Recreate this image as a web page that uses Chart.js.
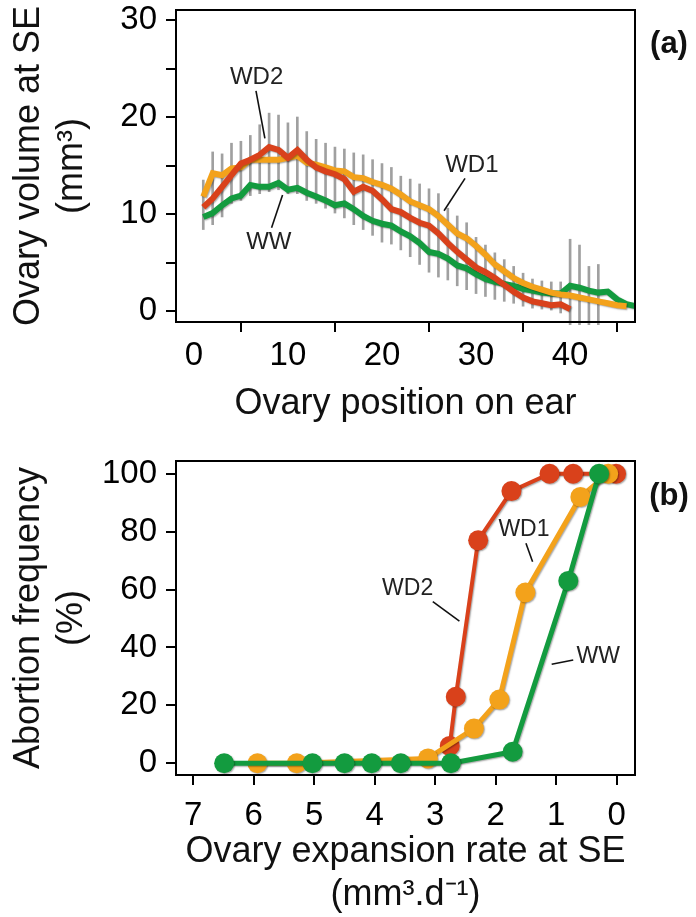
<!DOCTYPE html>
<html>
<head>
<meta charset="utf-8">
<script src="https://cdn.jsdelivr.net/npm/chart.js@4.4.1/dist/chart.umd.min.js"></script>
<style>
  body { margin: 0; background: #fff; }
  canvas { display: block; }
</style>
</head>
<body>
<canvas id="volChart" width="696" height="440"></canvas>
<canvas id="abortChart" width="696" height="477"></canvas>
<script>
// (a) ovary volume along the ear
const wwPos = [1,2,3,4,5,6,7,8,9,10,11,12,13,14,15,16,17,18,19,20,21,22,23,24,25,26,27,28,29,30,31,32,33,34,35,36,37,38,39,40,41,42,43,44,45,46,47];
const wwVolume = [9.7,10.1,10.9,11.6,11.9,13.0,12.8,12.8,13.2,12.5,12.7,12.2,11.8,11.4,10.9,11.1,10.5,9.8,9.3,9.0,8.8,8.2,7.7,7.0,6.1,5.9,5.4,4.7,4.4,3.8,3.3,3.0,2.8,2.6,2.3,2.1,1.9,1.8,1.8,2.6,2.4,2.1,1.9,2.0,1.2,0.7,0.5];
const wd1Pos = [1,2,3,4,5,6,7,8,9,10,11,12,13,14,15,16,17,18,19,20,21,22,23,24,25,26,27,28,29,30,31,32,33,34,35,36,37,38,39,40,41,42,43,44,45,46];
const wd1Volume = [11.8,14.2,14.0,14.7,14.8,15.6,15.6,15.6,15.6,15.8,16.0,15.3,15.1,14.8,14.5,14.4,13.8,13.7,13.3,13.0,12.6,12.0,11.3,10.9,10.5,9.8,8.9,8.0,7.5,6.7,5.8,4.8,4.1,3.4,2.9,2.5,2.2,1.9,1.7,1.6,1.4,1.2,1.0,0.8,0.6,0.5];
const wd2Pos = [1,2,3,4,5,6,7,8,9,10,11,12,13,14,15,16,17,18,19,20,21,22,23,24,25,26,27,28,29,30,31,32,33,34,35,36,37,38,39,40];
const wd2Volume = [10.7,11.6,12.8,14.0,15.2,15.6,16.1,16.9,16.6,15.8,16.6,15.6,14.8,14.4,14.1,13.6,12.3,12.8,12.4,11.5,10.5,10.2,9.6,9.1,8.8,8.0,7.0,6.1,5.3,4.5,4.0,3.4,2.7,2.0,1.4,1.0,0.8,0.6,0.7,0.2];
const sePos = [1,2,3,4,5,6,7,8,9,10,11,12,13,14,15,16,17,18,19,20,21,22,23,24,25,26,27,28,29,30,31,32,33,34,35,36,37,38,39,40,41,42,43];
const seLow = [8.4,8.9,9.7,11.1,11.4,11.9,12.1,12.3,12.5,12.1,12.1,11.4,11.1,10.6,10.1,9.6,8.9,8.4,7.8,7.1,6.9,6.3,5.6,4.8,4.0,3.5,3.2,2.6,2.2,1.8,1.5,1.2,1.0,0.8,0.5,0.3,0.2,0.1,-0.2,-1.5,-1.5,-1.5,-1.5];
const seHigh = [13.5,16.4,16.2,17.3,17.5,18.1,19.2,20.4,20.2,19.4,20.0,18.5,17.7,17.3,16.9,16.7,16.3,16.1,15.6,15.2,14.8,13.9,13.6,13.1,12.6,12.1,10.6,9.8,9.1,7.6,6.8,6.0,5.3,4.6,3.9,3.3,3.1,3.0,3.0,7.4,6.8,4.6,4.8];
const volYTicks = [0, 5, 10, 15, 20, 25, 30];
const volYLabels = ['0', '', '10', '', '20', '', '30'];
const posXTicks = [0, 10, 20, 30, 40];

// (b) abortion frequency vs expansion rate
const wwRate = [6.49, 5.03, 4.50, 4.05, 3.57, 2.74, 1.72, 0.80, 0.29];
const wwAbort = [0, 0, 0, 0, 0, 0, 4, 63, 100];
const wd1Rate = [5.94, 5.29, 3.12, 2.36, 1.94, 1.51, 0.60, 0.14];
const wd1Abort = [0, 0, 1.7, 12, 22, 59, 92, 100];
const wd2Rate = [2.76, 2.66, 2.29, 1.74, 1.11, 0.72, 0.01];
const wd2Abort = [6, 23, 77, 94, 100, 100, 100];
const abortYTicks = [0, 20, 40, 60, 80, 100];
const rateXTicks = [0, 1, 2, 3, 4, 5, 6, 7];

const GREEN = '#139b3f', ORANGE = '#f3a21b', RED = '#d9411b';
const FONT = "'Liberation Sans', Arial, sans-serif";

// series labels with leader lines, in data units
const volNotes = [
  {text: 'WD2', x: 6.67, y: 24.1, from: [6.6, 22.7], to: [7.55, 17.8]},
  {text: 'WW', x: 7.97, y: 7.04, from: [8.26, 8.59], to: [9.43, 11.96]},
  {text: 'WD1', x: 29.55, y: 15.05, from: [28.83, 13.68], to: [26.6, 10.34]}
];
const rateNotes = [
  {text: 'WD2', x: 3.456, y: 60.4, from: [3.04, 55.8], to: [2.60, 49.1]},
  {text: 'WD1', x: 1.533, y: 80.6, from: [1.50, 76.0], to: [1.39, 69.6]},
  {text: 'WW', x: 0.305, y: 36.8, from: [1.075, 34.2], to: [0.718, 35.7]}
];

function pts(xs, ys) {
  return xs.map((x, i) => ({x: x, y: ys[i]}));
}

const framePlugin = {
  id: 'frame',
  afterDraw(chart) {
    const a = chart.chartArea, ctx = chart.ctx;
    ctx.save();
    ctx.strokeStyle = '#000';
    ctx.lineWidth = 2;
    ctx.strokeRect(a.left, a.top, a.right - a.left, a.bottom - a.top);
    ctx.restore();
  }
};

const shadowPlugin = {
  id: 'lineShadow',
  beforeDatasetDraw(chart, args) {
    const ctx = chart.ctx;
    ctx.save();
    if (args.meta.type === 'line') {
      ctx.shadowColor = 'rgba(0,0,0,0.35)';
      ctx.shadowOffsetX = 1;
      ctx.shadowOffsetY = 1;
      ctx.shadowBlur = 1.5;
    }
  },
  afterDatasetDraw(chart) {
    chart.ctx.restore();
  }
};

const notesPlugin = {
  id: 'notes',
  afterDatasetsDraw(chart, args, opts) {
    const ctx = chart.ctx, xs = chart.scales.x, ys = chart.scales.y;
    ctx.save();
    ctx.strokeStyle = '#111';
    ctx.lineWidth = 1.6;
    ctx.fillStyle = '#222';
    ctx.font = opts.size + 'px ' + FONT;
    ctx.textAlign = 'center';
    ctx.textBaseline = 'middle';
    opts.notes.forEach(n => {
      ctx.fillText(n.text, xs.getPixelForValue(n.x), ys.getPixelForValue(n.y));
      ctx.beginPath();
      ctx.moveTo(xs.getPixelForValue(n.from[0]), ys.getPixelForValue(n.from[1]));
      ctx.lineTo(xs.getPixelForValue(n.to[0]), ys.getPixelForValue(n.to[1]));
      ctx.stroke();
    });
    const a = chart.chartArea;
    ctx.fillStyle = '#111';
    ctx.font = 'bold 31px ' + FONT;
    ctx.fillText(opts.panel, a.right + 34, a.top + opts.panelDy);
    ctx.restore();
  }
};

function axis(min, max, tickValues, labelFn, size, title, titlePad, tickPad, extra) {
  return Object.assign({
    type: 'linear',
    min: min,
    max: max,
    offset: false,
    afterBuildTicks: s => { s.ticks = tickValues.map(v => ({value: v})); },
    afterFit: s => {
      if (s.isHorizontal()) { s.height = size; s.paddingLeft = 0; s.paddingRight = 0; }
      else { s.width = size; s.paddingTop = 0; s.paddingBottom = 0; }
    },
    ticks: {
      autoSkip: false, maxRotation: 0, includeBounds: false,
      color: '#000', font: {family: FONT, size: 33}, padding: tickPad,
      callback: labelFn
    },
    grid: {drawOnChartArea: false, drawTicks: true, tickLength: 10, color: '#000', lineWidth: 2},
    border: {display: true, color: '#000', width: 2},
    title: {
      display: true, text: title, color: '#111',
      font: {family: FONT, size: 36, lineHeight: 1.2}, padding: titlePad
    }
  }, extra || {});
}

new Chart(document.getElementById('volChart'), {
  type: 'line',
  data: {
    datasets: [
      {label: 'WD2', data: pts(wd2Pos, wd2Volume), borderColor: RED, borderWidth: 6, pointRadius: 0, tension: 0, order: 1},
      {label: 'WD1', data: pts(wd1Pos, wd1Volume), borderColor: ORANGE, borderWidth: 6, pointRadius: 0, tension: 0, order: 2},
      {label: 'WW', data: pts(wwPos, wwVolume), borderColor: GREEN, borderWidth: 6, pointRadius: 0, tension: 0, order: 3},
      {type: 'bar', label: 'SE', data: sePos.map((x, i) => ({x: x, y: [seLow[i], seHigh[i]]})),
       backgroundColor: '#a0a0a0', barThickness: 2, grouped: false, clip: 3, order: 4}
    ]
  },
  options: {
    responsive: false,
    animation: false,
    layout: {padding: {top: 10, right: 61, bottom: 0, left: 0}},
    plugins: {
      legend: {display: false},
      tooltip: {enabled: false},
      notes: {notes: volNotes, size: 24, panel: '(a)', panelDy: 34}
    },
    scales: {
      x: axis(-1.9, 46.9, posXTicks, v => String(v), 118, 'Ovary position on ear', {top: 0, bottom: 14}, 4),
      y: axis(-1.13, 31.03, volYTicks, (v, i) => volYLabels[i], 176, ['Ovary volume at SE', '(mm³)'], {top: 7.4, bottom: 0}, 9)
    }
  },
  plugins: [framePlugin, shadowPlugin, notesPlugin]
});

new Chart(document.getElementById('abortChart'), {
  type: 'line',
  data: {
    datasets: [
      {label: 'WW', data: pts(wwRate, wwAbort), borderColor: GREEN, backgroundColor: GREEN, borderWidth: 5,
       pointRadius: 10, pointBorderWidth: 0, pointBackgroundColor: GREEN, tension: 0, order: 1},
      {label: 'WD1', data: pts(wd1Rate, wd1Abort), borderColor: ORANGE, backgroundColor: ORANGE, borderWidth: 5,
       pointRadius: 10, pointBorderWidth: 0, pointBackgroundColor: ORANGE, tension: 0, order: 2},
      {label: 'WD2', data: pts(wd2Rate, wd2Abort), borderColor: RED, backgroundColor: RED, borderWidth: 4,
       pointRadius: 10, pointBorderWidth: 0, pointBackgroundColor: RED, tension: 0, order: 3}
    ]
  },
  options: {
    responsive: false,
    animation: false,
    layout: {padding: {top: 21, right: 61, bottom: 0, left: 0}},
    plugins: {
      legend: {display: false},
      tooltip: {enabled: false},
      notes: {notes: rateNotes, size: 23, panel: '(b)', panelDy: 35}
    },
    scales: {
      x: axis(-0.303, 7.286, rateXTicks, v => String(v), 142, ['Ovary expansion rate at SE', '(mm³.d⁻¹)'], {top: 0, bottom: 0}, 11, {reverse: true}),
      y: axis(-4.04, 104.4, abortYTicks, v => String(v), 176, ['Abortion frequency', '(%)'], {top: 7.4, bottom: 0}, 9)
    }
  },
  plugins: [framePlugin, shadowPlugin, notesPlugin]
});
</script>
</body>
</html>
